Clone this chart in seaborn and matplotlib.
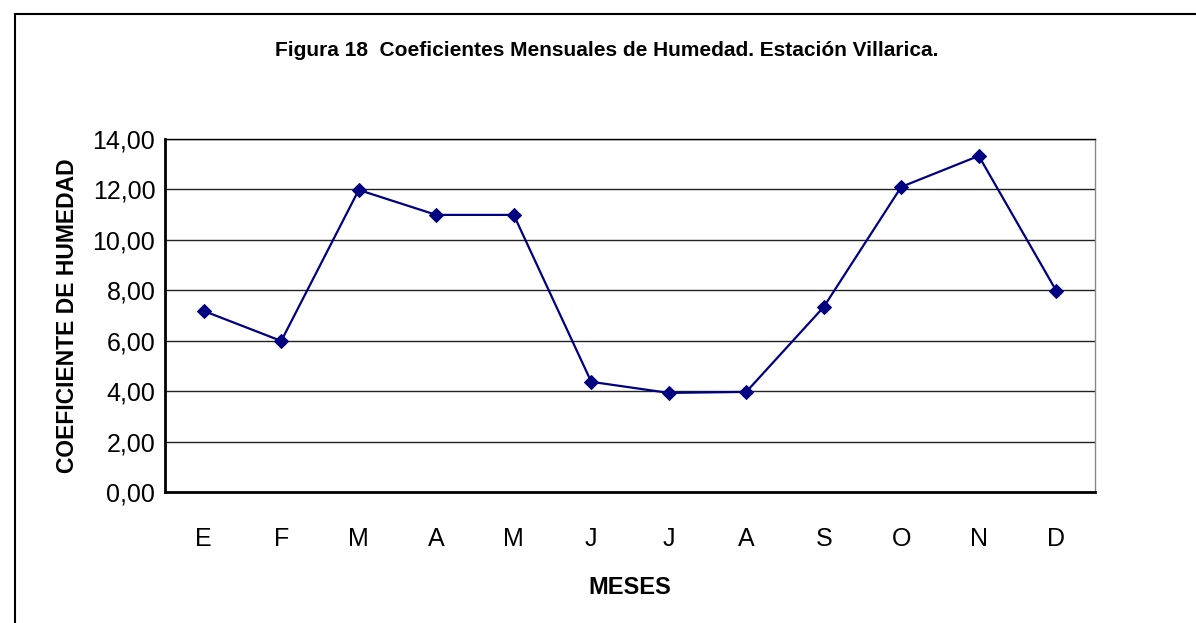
import numpy as np
import pandas as pd
import matplotlib.pyplot as plt
import matplotlib.ticker as mticker
from matplotlib.patches import Rectangle
import seaborn as sns

# Monthly humidity coefficients, Villarica station
months = ["E", "F", "M", "A", "M", "J", "J", "A", "S", "O", "N", "D"]
coef = [7.18, 5.99, 11.98, 10.99, 10.99, 4.37, 3.93, 3.97, 7.34, 12.10, 13.33, 7.98]

sns.set_style("white")
plt.rcParams['font.family'] = ['Liberation Sans', 'DejaVu Sans']
plt.rcParams['text.color'] = 'black'
plt.rcParams['axes.labelcolor'] = 'black'
plt.rcParams['xtick.color'] = 'black'
plt.rcParams['ytick.color'] = 'black'

df = pd.DataFrame({"pos": np.arange(len(months)), "coef": coef})

fig = plt.figure(figsize=(11.96, 6.23), dpi=100)
ax = fig.add_axes([165 / 1196, 1 - 492 / 623, (1095 - 165) / 1196, (492 - 139) / 623])

sns.lineplot(data=df, x="pos", y="coef", ax=ax, color="#000080", linewidth=1.6,
             marker="D", markersize=7, markeredgecolor="#000080")

ax.set_ylim(0, 14)
ax.set_xlim(-0.5, len(months) - 0.5)
ax.set_yticks(np.arange(0, 15, 2))
ax.yaxis.set_major_formatter(mticker.FuncFormatter(lambda v, p: f"{v:.2f}".replace(".", ",")))
ax.set_xticks(df["pos"])
ax.set_xticklabels(months)
ax.set_xticks(np.arange(-0.5, len(months)), minor=True)
ax.tick_params(axis="x", which="major", length=0, pad=25, labelsize=18)
ax.tick_params(axis="x", which="minor", length=8, width=1, color="#555555", direction="out")
ax.tick_params(axis="y", length=5, width=1, color="black", direction="out", labelsize=18, pad=2)

ax.yaxis.grid(True, color="#222222", linewidth=1)
ax.set_axisbelow(True)
for side in ["left", "bottom"]:
    ax.spines[side].set_color("black")
    ax.spines[side].set_linewidth(2)
ax.spines["top"].set_color("black")
ax.spines["top"].set_linewidth(1)
ax.spines["right"].set_color("#888888")
ax.spines["right"].set_linewidth(1)

ax.set_xlabel("MESES", fontsize=17, fontweight="bold", labelpad=18)
ax.set_ylabel("COEFICIENTE DE HUMEDAD", fontsize=16.5, fontweight="bold", labelpad=10)

fig.text(607 / 1196, 1 - 50 / 623, "Figura 18  Coeficientes Mensuales de Humedad. Estación Villarica.",
         ha="center", va="center", fontsize=15, fontweight="bold")

fig.patches.append(Rectangle((15 / 1196, -0.1), 1.2, 1 - 14 / 623 + 0.1, transform=fig.transFigure,
                             fill=False, edgecolor="black", linewidth=1.5))

fig.savefig("out.png", dpi=100)
